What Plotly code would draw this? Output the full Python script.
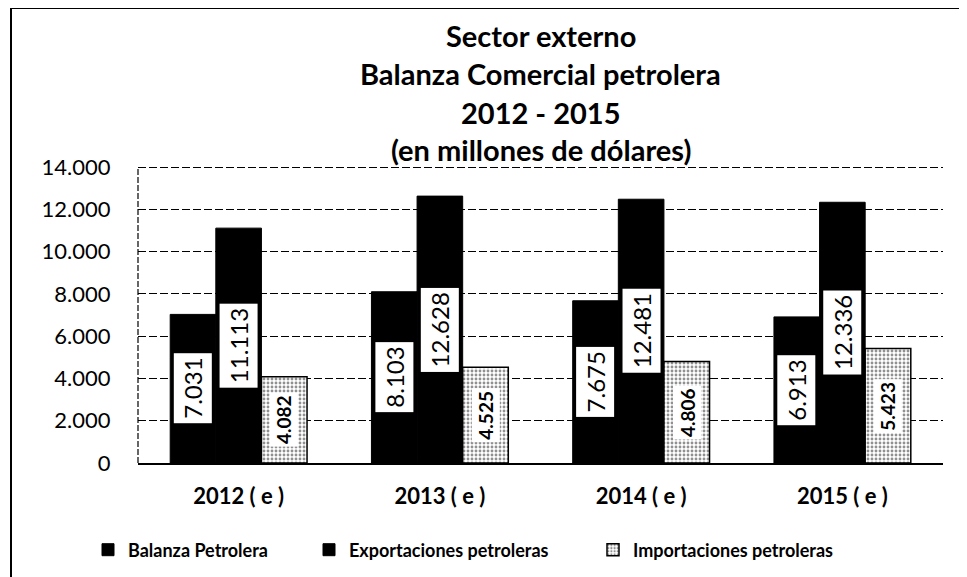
import plotly.graph_objects as go

# data (millones de dólares)
years = ["2012 ( e )", "2013 ( e )", "2014 ( e )", "2015 ( e )"]
balanza = [7031, 8103, 7675, 6913]
exportaciones = [11113, 12628, 12481, 12336]
importaciones = [4082, 4525, 4806, 5423]
series_names = ["Balanza Petrolera", "Exportaciones petroleras", "Importaciones petroleras"]
y_ticks = [0, 2000, 4000, 6000, 8000, 10000, 12000, 14000]
title_lines = [
    "Sector externo",
    "Balanza Comercial petrolera",
    "2012 - 2015",
    "(en millones de dólares)",
]

FONT = "Lato, 'Open Sans', sans-serif"
# page body has an 8px margin, so the figure is a bit smaller than the window
W, H = 959, 569
Y_MAX = 14100
M_L, M_R, M_T, M_B = 130, 24, 157, 114
BARGAP = 0.32
plot_w = W - M_L - M_R
plot_h = H - M_T - M_B


def fmt(v):
    return f"{v:,}".replace(",", ".")


fig = go.Figure()
fig.add_trace(go.Bar(
    x=years, y=balanza, name=series_names[0], legend="legend",
    marker=dict(color="black", line=dict(color="black", width=1)),
))
fig.add_trace(go.Bar(
    x=years, y=exportaciones, name=series_names[1], legend="legend2",
    marker=dict(color="black", line=dict(color="black", width=1)),
))
fig.add_trace(go.Bar(
    x=years, y=importaciones, name=series_names[2], legend="legend3",
    marker=dict(
        color="white",
        line=dict(color="black", width=1.5),
        pattern=dict(shape=".", fgcolor="#222222", bgcolor="white", size=4, solidity=0.4),
    ),
))

# value labels in white boxes, rotated, centred in each bar
bar_w = plot_w / len(years) * (1 - BARGAP) / 3
annotations = []
label_style = [(balanza, 24, "normal", 4), (exportaciones, 24, "normal", 4), (importaciones, 19, "bold", 2)]
for k, (vals, size, weight, pad) in enumerate(label_style):
    for yr, v in zip(years, vals):
        annotations.append(dict(
            x=yr, y=v / 2, xref="x", yref="y",
            xshift=(k - 1) * bar_w,
            text=fmt(v), textangle=-90, showarrow=False,
            bgcolor="white", borderpad=pad,
            font=dict(family=FONT, size=size, color="black", weight=weight),
        ))

# title, one annotation per line
for fy, line in zip([28, 65, 104, 142], title_lines):
    annotations.append(dict(
        x=0.5, y=(H - M_B - fy) / plot_h, xref="paper", yref="paper",
        yanchor="middle", text=f"<b>{line}</b>", showarrow=False,
        font=dict(family=FONT, size=29, color="black"),
    ))

legend_font = dict(family=FONT, size=18, color="black", weight="bold")
legend_common = dict(
    orientation="h", xref="container", yref="container",
    xanchor="left", yanchor="middle", y=1 - 542 / H,
    font=legend_font, itemwidth=30, bgcolor="rgba(0,0,0,0)",
)
text_starts = [120, 341, 625]

fig.update_layout(
    width=W, height=H,
    margin=dict(l=M_L, r=M_R, t=M_T, b=M_B),
    paper_bgcolor="white", plot_bgcolor="white",
    barmode="group", bargap=BARGAP, bargroupgap=0,
    separators=",.",
    font=dict(family=FONT, color="black"),
    annotations=annotations,
    showlegend=True,
    legend=dict(legend_common, x=(text_starts[0] - 40) / W),
    legend2=dict(legend_common, x=(text_starts[1] - 40) / W),
    legend3=dict(legend_common, x=(text_starts[2] - 40) / W),
    hovermode=False,
)
fig.update_xaxes(
    showline=True, linecolor="black", linewidth=1.5,
    tickfont=dict(family=FONT, size=22, color="black", weight="bold"),
    ticks="outside", tickcolor="white", ticklen=13,
)
fig.update_yaxes(
    range=[0, Y_MAX], tickvals=y_ticks, tickformat=",d",
    showgrid=True, gridcolor="black", gridwidth=1.2, griddash="8px,3px",
    showline=False, zeroline=False,
    tickfont=dict(family=FONT, size=22, color="black"),
    ticks="outside", tickcolor="white", ticklen=22,
)

# dashed left edge of the plot area
fig.add_shape(type="line", xref="paper", yref="y",
              x0=0, x1=0, y0=0, y1=y_ticks[-1],
              line=dict(color="black", width=1.2, dash="6px,2px"))

# outer frame of the scanned chart: left and top edges
x_left = (3 - M_L) / plot_w
y_top = (H - M_B) / plot_h
fig.add_shape(type="line", xref="paper", yref="paper",
              x0=x_left, x1=x_left, y0=y_top, y1=-M_B / plot_h,
              line=dict(color="black", width=2))
fig.add_shape(type="line", xref="paper", yref="paper",
              x0=x_left, x1=1 + M_R / plot_w, y0=y_top, y1=y_top,
              line=dict(color="black", width=2))

fig.write_html("out.html")
